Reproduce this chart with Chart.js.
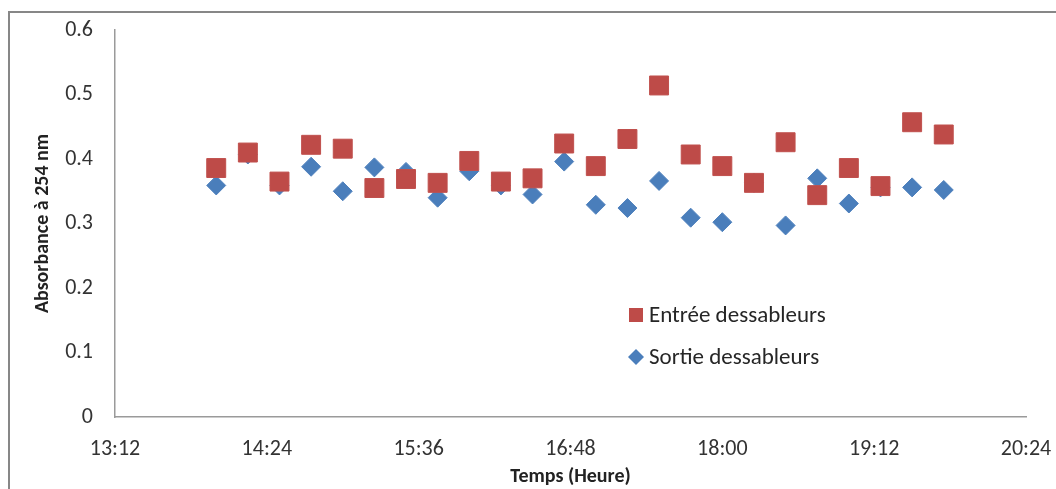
<!DOCTYPE html>
<html>
<head>
<meta charset="utf-8">
<script src="https://cdn.jsdelivr.net/npm/chart.js@4"></script>
<style>
    html, body { margin: 0; padding: 0; background: #fff; }
    #wrap { position: relative; width: 1056px; height: 489px; overflow: hidden; }
    #frame {
        position: absolute; left: 8px; top: 11px; width: 1100px; height: 600px;
        border-left: 2px solid #878787; border-top: 2px solid #878787;
    }
    canvas { position: absolute; left: 0; top: 0; }
</style>
</head>
<body>
<div id="wrap">
    <div id="frame"></div>
    <canvas id="chart" width="1056" height="489"></canvas>
</div>
<script>
// Data
const times = ['14:00', '14:15', '14:30', '14:45', '15:00', '15:15', '15:30', '15:45',
    '16:00', '16:15', '16:30', '16:45', '17:00', '17:15', '17:30', '17:45',
    '18:00', '18:15', '18:30', '18:45', '19:00', '19:15', '19:30', '19:45'];
const entree = [0.386, 0.410, 0.365, 0.422, 0.416, 0.355, 0.369, 0.363,
    0.397, 0.365, 0.370, 0.424, 0.389, 0.431, 0.514, 0.407,
    0.389, 0.363, 0.426, 0.344, 0.386, 0.358, 0.457, 0.438];
const sortie = [0.359, 0.407, 0.359, 0.388, 0.350, 0.387, 0.380, 0.340,
    0.381, 0.359, 0.345, 0.396, 0.329, 0.324, 0.366, 0.309,
    0.302, 0.363, 0.297, 0.370, 0.331, 0.356, 0.356, 0.352];
const xTickLabels = ['13:12', '14:24', '15:36', '16:48', '18:00', '19:12', '20:24'];
const yTickLabels = ['0', '0.1', '0.2', '0.3', '0.4', '0.5', '0.6'];

const toMin = t => { const p = t.split(':'); return (+p[0]) * 60 + (+p[1]); };
const toHHMM = m => Math.floor(m / 60) + ':' + String(Math.round(m % 60)).padStart(2, '0');

const fontFam = 'Carlito, Calibri, Lato, "Open Sans", sans-serif';

// Legend drawn inside the plot area
const innerLegend = {
    id: 'innerLegend',
    afterDraw(chart) {
        const ctx = chart.ctx;
        const a = chart.chartArea;
        const x0 = a.left + 521;
        const rows = [a.top + 285, a.top + 327];
        ctx.save();
        ctx.font = '23px ' + fontFam;
        ctx.textBaseline = 'middle';
        chart.data.datasets.forEach((ds, i) => {
            const y = rows[i];
            ctx.fillStyle = ds.backgroundColor;
            if (ds.pointStyle === 'rect') {
                ctx.fillRect(x0 - 7, y - 7, 14, 14);
            } else {
                ctx.beginPath();
                ctx.moveTo(x0, y - 8); ctx.lineTo(x0 + 8, y);
                ctx.lineTo(x0, y + 8); ctx.lineTo(x0 - 8, y);
                ctx.closePath(); ctx.fill();
            }
            ctx.fillStyle = '#262626';
            ctx.fillText(ds.label, x0 + 13, y + 1);
        });
        ctx.restore();
    }
};

const ctx = document.getElementById('chart').getContext('2d');
new Chart(ctx, {
    type: 'scatter',
    data: {
        datasets: [{
            label: 'Entrée dessableurs',
            data: times.map((t, i) => ({ x: toMin(t), y: entree[i] })),
            backgroundColor: '#be4b48',
            borderColor: '#c0504d',
            borderWidth: 1,
            pointStyle: 'rect',
            pointRadius: 13.4,
            pointHoverRadius: 13.4
        }, {
            label: 'Sortie dessableurs',
            data: times.map((t, i) => ({ x: toMin(t), y: sortie[i] })),
            backgroundColor: '#4a7ebb',
            borderColor: '#4f81bd',
            borderWidth: 1,
            pointStyle: 'rectRot',
            pointRadius: 9.5,
            pointHoverRadius: 9.5
        }]
    },
    options: {
        responsive: false,
        animation: false,
        layout: { padding: { left: 25, top: 30, right: 30, bottom: 0 } },
        plugins: {
            legend: { display: false },
            tooltip: { enabled: false }
        },
        scales: {
            x: {
                type: 'linear',
                min: toMin(xTickLabels[0]),
                max: toMin(xTickLabels[xTickLabels.length - 1]),
                afterBuildTicks: s => { s.ticks = xTickLabels.map(t => ({ value: toMin(t) })); },
                grid: { display: false, drawTicks: false },
                border: { color: '#9a9a9a', width: 1.5 },
                ticks: {
                    callback: v => toHHMM(v),
                    color: '#333',
                    font: { family: fontFam, size: 22 },
                    padding: 19,
                    maxRotation: 0,
                    autoSkip: false
                },
                title: {
                    display: true,
                    text: 'Temps (Heure)',
                    color: '#222',
                    font: { family: fontFam, size: 20, weight: 'bold' },
                    padding: { top: 6, bottom: 0 }
                },
                afterFit: s => {
                    s.height = 72;
                    s.paddingLeft = 0;
                    s.paddingRight = 0;
                }
            },
            y: {
                min: 0,
                max: 0.6,
                afterBuildTicks: s => { s.ticks = yTickLabels.map(t => ({ value: +t })); },
                grid: { display: false, drawTicks: false },
                border: { color: '#9a9a9a', width: 1.5 },
                ticks: {
                    callback: v => String(+v.toFixed(1)),
                    color: '#333',
                    font: { family: fontFam, size: 22 },
                    padding: 22
                },
                title: {
                    display: true,
                    text: 'Absorbance à 254 nm',
                    color: '#222',
                    font: { family: fontFam, size: 20, weight: 'bold' },
                    padding: { top: 6, bottom: 0 }
                },
                afterFit: s => {
                    s.width = 90;
                    s.paddingTop = 0;
                    s.paddingBottom = 0;
                }
            }
        }
    },
    plugins: [innerLegend]
});
</script>
</body>
</html>
